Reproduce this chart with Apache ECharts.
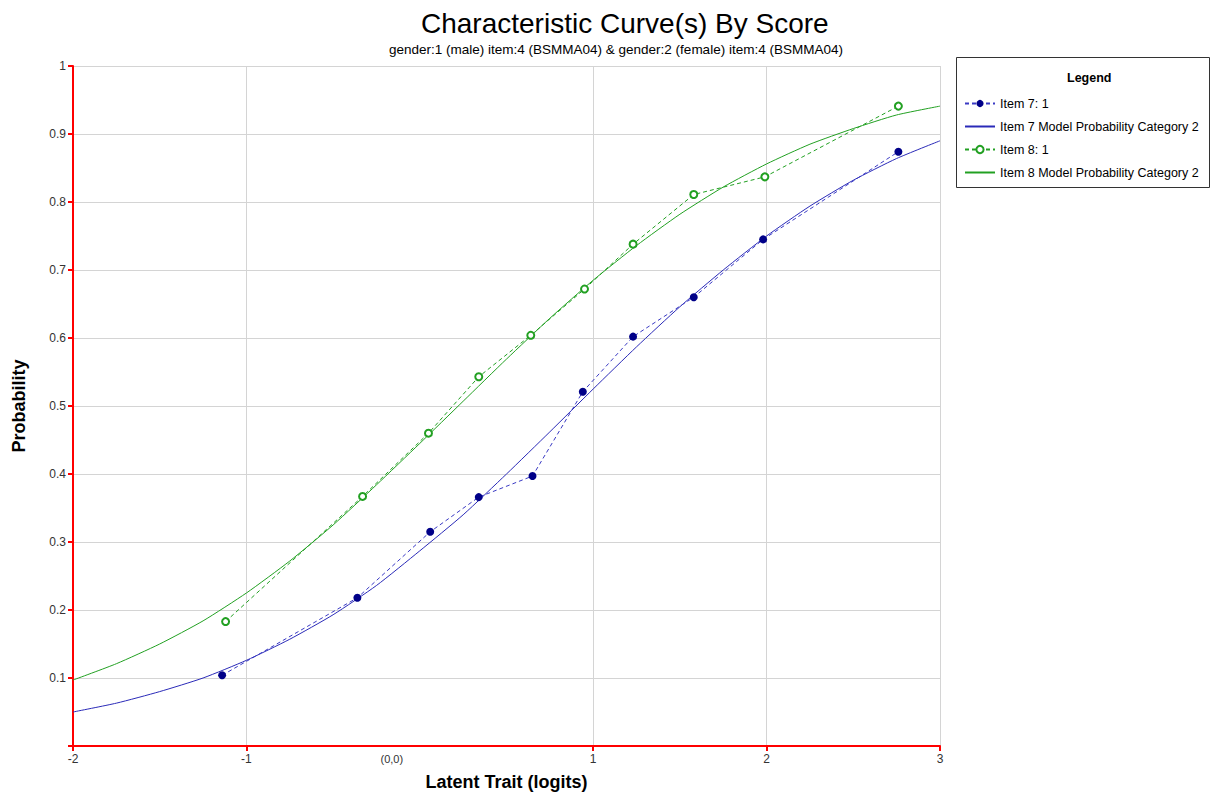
<!DOCTYPE html>
<html lang="en">
<head>
    <meta charset="UTF-8">
    <title>Characteristic Curve(s) By Score</title>
    <style>
        html, body { margin: 0; padding: 0; background: #fff; }
        #chart { width: 1211px; height: 796px; }
    </style>
    <script src="https://cdn.jsdelivr.net/npm/echarts@6/dist/echarts.min.js"></script>
</head>
<body>
    <div id="chart"></div>
    <script>
        var item7X = [-1.14, -0.36, 0.06, 0.34, 0.65, 0.94, 1.23, 1.58, 1.98, 2.76];
        var item7Y = [0.104, 0.218, 0.315, 0.366, 0.397, 0.521, 0.602, 0.660, 0.745, 0.874];
        var item8X = [-1.12, -0.33, 0.05, 0.34, 0.64, 0.95, 1.23, 1.58, 1.99, 2.76];
        var item8Y = [0.183, 0.367, 0.460, 0.543, 0.604, 0.672, 0.738, 0.811, 0.837, 0.941];

        // model curves, sampled every 0.25 logit
        var modelX = [-2, -1.75, -1.5, -1.25, -1, -0.75, -0.5, -0.25, 0, 0.25, 0.5,
                      0.75, 1, 1.25, 1.5, 1.75, 2, 2.25, 2.5, 2.75, 3];
        var model7Y = [0.050, 0.063, 0.080, 0.100, 0.126, 0.157, 0.193, 0.236, 0.287, 0.340, 0.400,
                       0.462, 0.525, 0.587, 0.646, 0.700, 0.750, 0.794, 0.832, 0.864, 0.890];
        var model8Y = [0.097, 0.121, 0.150, 0.184, 0.225, 0.272, 0.325, 0.384, 0.445, 0.507, 0.569,
                       0.629, 0.685, 0.736, 0.782, 0.822, 0.856, 0.885, 0.908, 0.928, 0.941];

        var seriesNames = ['Item 7: 1', 'Item 7 Model Probability Category 2',
                           'Item 8: 1', 'Item 8 Model Probability Category 2'];
        var xTicks = [-2, -1, 1, 2, 3];

        function pairs(xs, ys) {
            return xs.map(function (x, i) { return [x, ys[i]]; });
        }

        var font = '"Liberation Sans", Arial, sans-serif';
        var chart = echarts.init(document.getElementById('chart'), null, { renderer: 'svg' });

        // model entries in the legend: plain line, no marker
        var legendData = seriesNames.map(function (n, i) {
            return i % 2 === 1 ? { name: n, itemStyle: { opacity: 0 } } : { name: n };
        });

        var option = {
            backgroundColor: '#fff',
            animation: false,
            textStyle: { fontFamily: font },
            title: [{
                text: 'Characteristic Curve(s) By Score',
                left: 416, top: 4,
                textStyle: { fontSize: 28, fontWeight: 'normal', color: '#000', fontFamily: font }
            }, {
                text: 'gender:1 (male) item:4 (BSMMA04) & gender:2 (female) item:4 (BSMMA04)',
                left: 384, top: 37,
                textStyle: { fontSize: 13.5, fontWeight: 'normal', color: '#000', fontFamily: font }
            }, {
                text: 'Legend',
                left: 1062, top: 66,
                textStyle: { fontSize: 12.5, fontWeight: 'bold', color: '#000', fontFamily: font }
            }],
            graphic: [{
                type: 'rect',
                shape: { x: 956.5, y: 57.5, width: 253, height: 130 },
                style: { fill: 'none', stroke: '#333', lineWidth: 1 },
                z: 0
            }],
            legend: {
                data: legendData,
                orient: 'vertical',
                left: 959, top: 92,
                itemWidth: 30, itemHeight: 9,
                itemGap: 10,
                textStyle: { fontSize: 12.5, color: '#000', fontFamily: font }
            },
            grid: { left: 73, right: 271, top: 66, bottom: 48 },
            xAxis: {
                type: 'value',
                min: -2, max: 3, interval: 1,
                name: 'Latent Trait (logits)',
                nameLocation: 'middle',
                nameGap: 27,
                nameTextStyle: { fontSize: 18, fontWeight: 'bold', color: '#000', fontFamily: font },
                axisLine: { onZero: false, lineStyle: { color: '#ff0000', width: 2 } },
                axisTick: { show: true, length: 5, customValues: xTicks, lineStyle: { color: '#ff0000', width: 2 } },
                axisLabel: {
                    color: '#333', fontSize: 12, margin: 7,
                    formatter: function (v) { return v === 0 ? '{z|(0,0)}' : String(v); },
                    rich: { z: { fontSize: 11, color: '#333', padding: [0, 56, 0, 0] } }
                },
                splitLine: { show: true, lineStyle: { color: '#d4d4d4', width: 1 } }
            },
            yAxis: {
                type: 'value',
                min: 0, max: 1, interval: 0.1,
                name: 'Probability',
                nameLocation: 'middle',
                nameGap: 45,
                nameRotate: 90,
                nameTextStyle: { fontSize: 18, fontWeight: 'bold', color: '#000', fontFamily: font },
                axisLine: { show: true, onZero: false, lineStyle: { color: '#ff0000', width: 2 } },
                axisTick: { show: true, length: 5, lineStyle: { color: '#ff0000', width: 2 } },
                axisLabel: {
                    color: '#333', fontSize: 12, margin: 7,
                    formatter: function (v) { return v === 0 ? '' : String(+v.toFixed(1)); }
                },
                splitLine: { show: true, lineStyle: { color: '#d4d4d4', width: 1 } }
            },
            series: [{
                name: seriesNames[0],
                type: 'line',
                data: pairs(item7X, item7Y),
                symbol: 'circle',
                symbolSize: 8,
                itemStyle: { color: '#000088' },
                lineStyle: { color: '#3a3ac4', width: 1, type: [4, 3] },
                z: 4
            }, {
                name: seriesNames[1],
                type: 'line',
                data: pairs(modelX, model7Y),
                symbol: 'none',
                smooth: 0.2,
                itemStyle: { color: '#2a2ab8' },
                lineStyle: { color: '#2a2ab8', width: 1 },
                z: 3
            }, {
                name: seriesNames[2],
                type: 'line',
                data: pairs(item8X, item8Y),
                symbol: 'emptyCircle',
                symbolSize: 7,
                itemStyle: { color: '#22a022', borderWidth: 1 },
                lineStyle: { color: '#22a022', width: 1, type: [4, 3] },
                z: 4
            }, {
                name: seriesNames[3],
                type: 'line',
                data: pairs(modelX, model8Y),
                symbol: 'none',
                smooth: 0.2,
                itemStyle: { color: '#22a022' },
                lineStyle: { color: '#22a022', width: 1 },
                z: 3
            }]
        };

        chart.setOption(option);
    </script>
</body>
</html>
